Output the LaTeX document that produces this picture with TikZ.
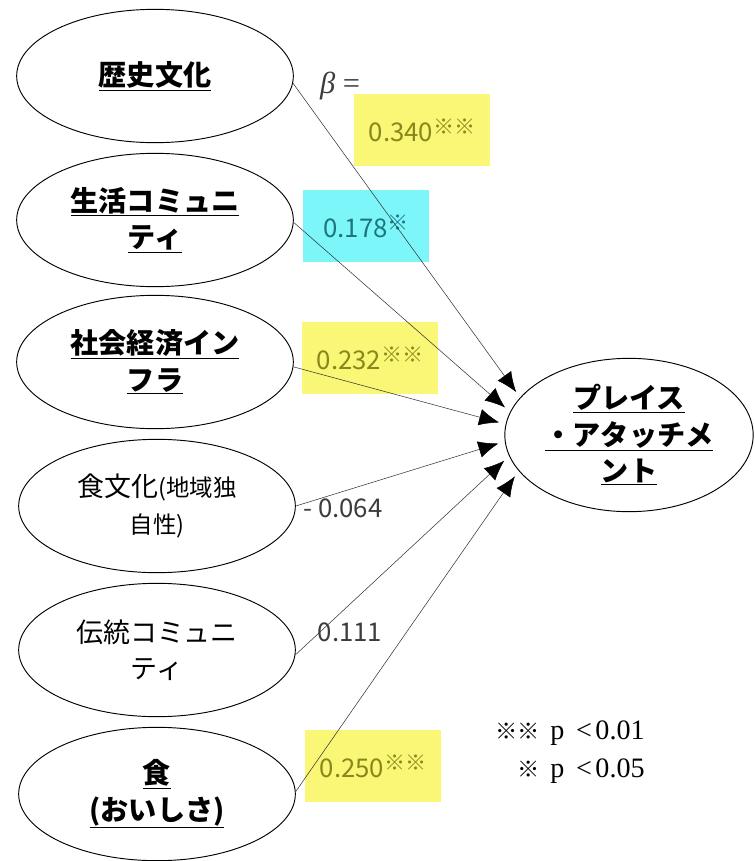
\documentclass[tikz,border=0pt]{standalone}
\usepackage{fontspec}
\setmainfont{Liberation Serif}
\newfontfamily\jp{Noto Sans CJK JP}
\usetikzlibrary{shapes.geometric,arrows.meta}
\definecolor{hlyellow}{RGB}{250,246,118}
\definecolor{hlcyan}{RGB}{125,246,250}
\definecolor{hltext}{RGB}{138,134,28}
\definecolor{cytext}{RGB}{28,118,128}
\definecolor{numtext}{RGB}{60,60,60}
\newcommand\sigmark[1]{\raisebox{0.5ex}{\jp\fontsize{18}{18}\selectfont #1}}

\begin{document}
\begin{tikzpicture}[x=0.03cm,y=-0.03cm,
  factor/.style={ellipse,draw,line width=0.8pt,minimum width=8.3cm,minimum height=4cm,
    inner sep=-6mm,align=center,font=\jp\fontsize{23}{31}\selectfont},
  keyfactor/.style={factor,font=\jp\bfseries\fontsize{24}{31}\selectfont},
  coef/.style={minimum width=4.1cm,minimum height=2.15cm,inner sep=0pt,
    font=\jp\fontsize{22}{26}\selectfont},
  path/.style={draw=black!80,line width=0.45pt,shorten >=2mm,-{Latex[length=6mm,width=5mm,black]}}]
\useasboundingbox (0,0) rectangle (755,861);

% factors
\node[keyfactor] (hist) at (155,76) {\underline{歴史文化}};
\node[keyfactor] (life) at (155,220) {\underline{生活コミュニ}\\\underline{ティ}};
\node[keyfactor] (infra) at (155,362) {\underline{社会経済イン}\\\underline{フラ}};
\node[factor] (food) at (157,506) {食文化{\fontsize{20}{31}\selectfont (地域独}\\{\fontsize{20}{31}\selectfont 自性)}};
\node[factor] (trad) at (157,650) {伝統コミュニ\\ティ};
\node[keyfactor] (taste) at (157,794) {\underline{食}\\\underline{(おいしさ)}};

% outcome
\node[keyfactor,minimum width=7.45cm,minimum height=4.6cm] (pa) at (629,435)
  {\underline{プレイス}\\\underline{・アタッチメ}\\\underline{ント}};

% coefficients
\node[coef,fill=hlyellow,text=hltext] (c1) at (422,130) {0.340\sigmark{※※}};
\node[coef,fill=hlcyan,text=cytext,minimum width=3.8cm] (c2) at (366,226) {0.178\sigmark{※}\hspace{1.8em}};
\node[coef,fill=hlyellow,text=hltext] (c3) at (370,358) {0.232\sigmark{※※}};
\node[coef,text=numtext] (c4) at (343,508) {- 0.064};
\node[coef,text=numtext] (c5) at (350,632) {0.111};
\node[coef,fill=hlyellow,text=hltext] (c6) at (373,766) {0.250\sigmark{※※}};
\node[text=numtext,font=\fontsize{26}{30}\selectfont] (beta) at (340,86) {\textit{β} =};

% paths
\draw[path] (hist.-3) -- (pa.161);
\draw[path] (life.-1) -- (pa.169);
\draw[path] (infra.-2) -- (pa.175);
\draw[path] (food.east) -- (pa.183.5);
\draw[path] (trad.-2) -- (pa.190);
\draw[path] (taste.1) -- (pa.198);

% legend
\node[align=right,font=\fontsize{24}{33}\selectfont] (key) at (570,752)
  {{\jp\fontsize{19}{19}\selectfont ※※}\hspace{9pt}p\hspace{10pt}<\hspace{3pt}0.01\\
   {\jp\fontsize{19}{19}\selectfont ※}\hspace{9pt}p\hspace{10pt}<\hspace{3pt}0.05};
\end{tikzpicture}
\end{document}
